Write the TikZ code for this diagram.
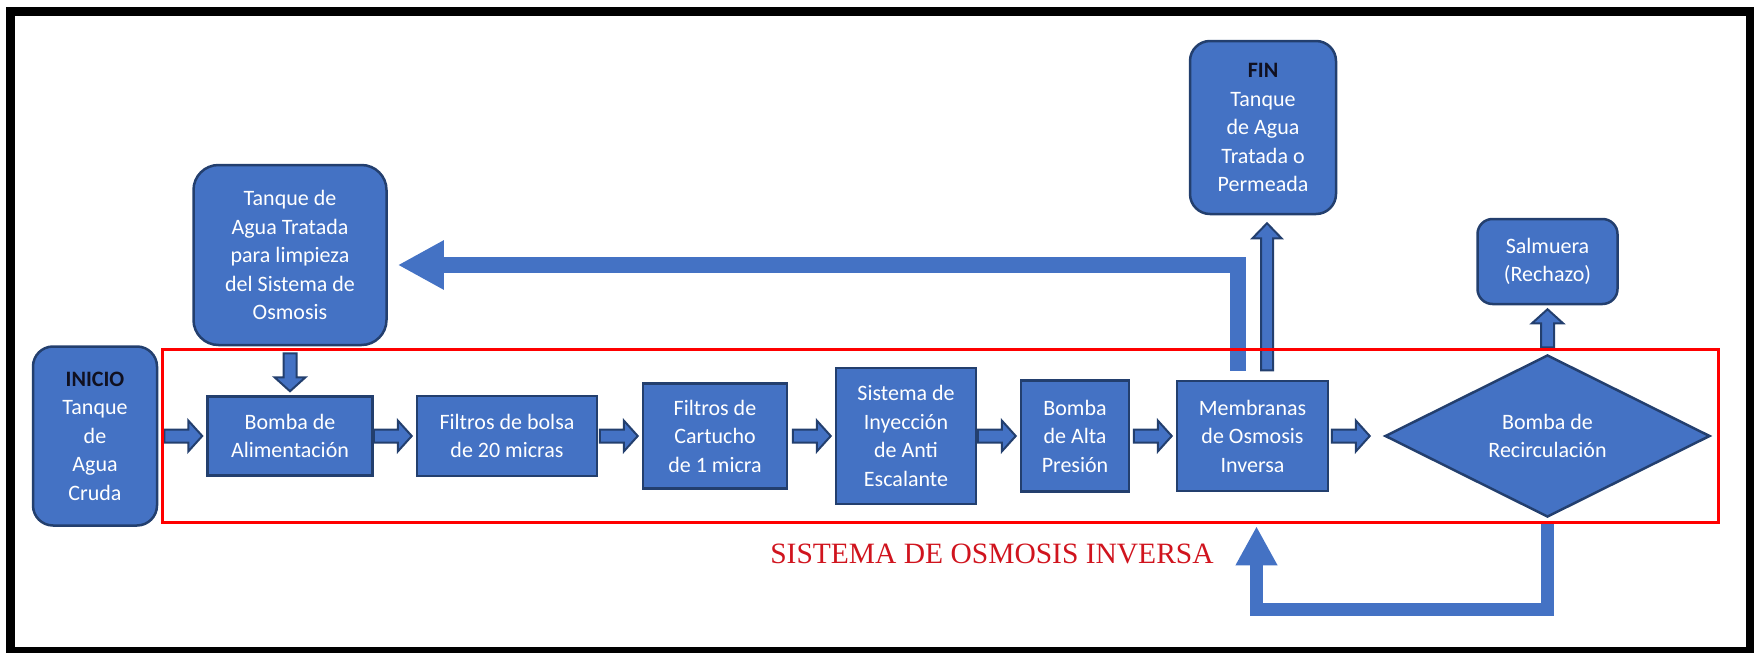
\documentclass[tikz,border=0pt]{standalone}
\usepackage{fontspec}
\newfontfamily\carlito{Carlito}
\newfontfamily\serifrojo{Liberation Serif}
\usetikzlibrary{arrows.meta,shapes.geometric,calc}

\definecolor{azul}{HTML}{4472C4}
\definecolor{borde}{HTML}{233F6E}
\definecolor{negro}{HTML}{101020}
\definecolor{rojo}{HTML}{FF0000}
\definecolor{rojotexto}{HTML}{D0141E}

% medidas de las flechas de bloque
\newcommand\fgap{4pt}
\newcommand\flargo{38pt}
\newcommand\fcabeza{14pt}
\newcommand\feje{6.5pt}
\newcommand\fancho{15.5pt}

\tikzset{
  fgap/.store in=\fgap, flargo/.store in=\flargo, fcabeza/.store in=\fcabeza,
  feje/.store in=\feje, fancho/.store in=\fancho,
  caja/.style={draw=borde, fill=azul, line width=2.5pt, text=white, align=center,
    inner sep=0pt, font=\carlito\fontsize{22}{28.5}\selectfont},
  tanque/.style={caja, rounded corners=20pt},
  decision/.style={caja, diamond},
  flecha/.style={draw=borde, fill=azul, line width=2pt, line join=miter,
    to path={
      ($(\tikztotarget)!\fgap!(\tikztostart)$) coordinate (f-tip)
      ($(f-tip)!\flargo!(\tikztostart)$) coordinate (f-base)
      ($(f-tip)!\fcabeza!(f-base)$) coordinate (f-cab)
      ($(f-base)!\feje!90:(f-tip)$) -- ($(f-cab)!\feje!90:(f-tip)$)
      -- ($(f-cab)!\fancho!90:(f-tip)$) -- (f-tip)
      -- ($(f-cab)!\fancho!-90:(f-tip)$) -- ($(f-cab)!\feje!-90:(f-tip)$)
      -- ($(f-base)!\feje!-90:(f-tip)$) -- cycle
    }},
  retorno/.style={draw=azul, line join=miter, -{Triangle[length=#1,width=#1]}},
}

\begin{document}
\begin{tikzpicture}[x=1pt,y=-1pt]
\useasboundingbox (0,0) rectangle (1754,653);
\draw[line width=9pt] (10.5,11) rectangle (1750,651);

\node[tanque, minimum width=124pt, minimum height=179pt] (inicio) at (95,436)
  {\textbf{\color{negro}INICIO}\\Tanque\\de\\Agua\\Cruda};
\node[tanque, minimum width=193pt, minimum height=180pt, rounded corners=25pt] (limpieza) at (290,255)
  {Tanque de\\Agua Tratada\\para limpieza\\del Sistema de\\Osmosis};
\node[caja, minimum width=165pt, minimum height=79pt] (bomba) at (290,436) {Bomba de\\Alimentación};
\node[caja, minimum width=180pt, minimum height=80pt] (bolsa) at (507,436) {Filtros de bolsa\\de 20 micras};
\node[caja, minimum width=144pt, minimum height=105pt] (cartucho) at (715,436) {Filtros de\\Cartucho\\de 1 micra};
\node[caja, minimum width=140pt, minimum height=136pt] (inyeccion) at (906,436)
  {Sistema de\\Inyección\\de Anti\\Escalante};
\node[caja, minimum width=108pt, minimum height=111pt] (alta) at (1075,436) {Bomba\\de Alta\\Presión};
\node[caja, minimum width=151pt, minimum height=110pt] (membranas) at (1252.5,436)
  {Membranas\\de Osmosis\\Inversa};
\node[decision, minimum width=325pt, minimum height=145pt] (diamante) at (1547.5,436)
  {Bomba de\\Recirculación};
\node[tanque, minimum width=146pt, minimum height=173pt] (fin) at (1263,127.5)
  {\textbf{\color{negro}FIN}\\Tanque\\de Agua\\Tratada o\\Permeada};
\node[tanque, minimum width=140pt, minimum height=85pt, rounded corners=15pt] (salmuera) at (1547.5,261.5)
  {Salmuera\\(Rechazo)};

\coordinate (r1) at ($(membranas.north)+(-14.5,-9)$);
\coordinate (r2) at ($(limpieza.east)+(10,10)$);
\coordinate (r3) at ($(diamante.south)+(0,5)$);
\coordinate (r4) at ($(membranas.south)+(4,34)$);
\coordinate (p1) at ($(membranas.north)+(14.5,-12)$);
\coordinate (p2) at ($(fin.south)+(4,4)$);

% retornos
\draw[retorno=46pt, line width=16pt] (r1) |- (r2);
\draw[retorno=39pt, line width=13pt] (r3) -- ++(0,86) -| (r4);

\draw[flecha] (inicio.east) to (bomba.west)
  (bomba.east) to (bolsa.west)
  (bolsa.east) to (cartucho.west)
  (cartucho.east) to (inyeccion.west)
  (inyeccion.east) to (alta.west)
  (alta.east) to (membranas.west)
  (limpieza.south) to (bomba.north)
  (diamante.north) to (salmuera.south);
\draw[flecha, fgap=14pt] (membranas.east) to (diamante.west);
\draw[flecha, flargo=147pt, fcabeza=15pt, feje=6pt, fancho=14.5pt] (p1) to (p2);

\draw[rojo, line width=3pt] (162,349.5) rectangle (1718.5,522);
\node[font=\serifrojo\fontsize{29.5}{32}\selectfont, text=rojotexto, anchor=base] (titulo) at (992,563)
  {SISTEMA DE OSMOSIS INVERSA};
\end{tikzpicture}
\end{document}
